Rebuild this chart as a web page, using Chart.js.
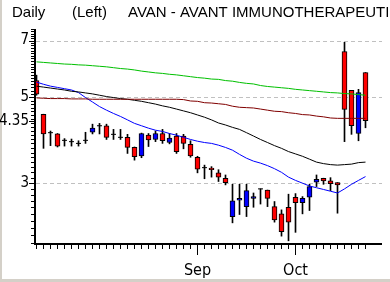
<!DOCTYPE html>
<html><head><meta charset="utf-8">
<script src="https://cdn.jsdelivr.net/npm/chart.js@4.4.1/dist/chart.umd.min.js"></script>
<style>html,body{margin:0;padding:0;background:#fff;overflow:hidden}canvas{display:block}</style>
</head><body>
<canvas id="c" width="390" height="282"></canvas>
<script>
// ---- data ----
const titleParts = ['Daily', '(Left)', 'AVAN - AVANT IMMUNOTHERAPEUTICS'];
const monthTickIndex = [23, 37];
const monthTickLabels = ['Sep', 'Oct'];
const yLabelValues = [7, 5, 4.35, 3];
const yGridValues = [7, 5, 3];

const openP  = [5.52,4.52,4.05,4.02,3.87,3.84,3.80,3.87,4.06,4.22,4.22,4.01,3.94,3.94,3.71,3.53,3.99,3.89,4.03,3.82,3.97,3.97,3.78,3.50,3.29,3.28,3.19,3.09,2.46,2.71,2.61,2.74,2.90,2.88,2.61,2.50,2.60,2.76,2.67,2.76,3.02,3.09,3.04,3.01,6.56,5.21,4.03,5.79];
const highP  = [5.70,4.52,4.09,4.03,3.91,3.90,3.86,4.06,4.26,4.28,4.26,4.13,4.13,4.01,3.72,4.04,4.03,4.09,4.13,4.03,4.03,4.01,3.86,3.52,3.34,3.31,3.25,3.15,2.98,2.98,2.98,2.83,2.90,2.88,2.69,2.56,2.81,2.82,2.77,2.98,3.15,3.09,3.10,3.01,6.93,5.21,5.24,5.79];
const lowP   = [5.06,3.69,3.75,3.72,3.74,3.74,3.74,3.80,4.02,4.02,3.89,3.89,3.89,3.58,3.44,3.49,3.73,3.84,3.80,3.79,3.58,3.68,3.50,3.19,3.08,3.11,3.03,2.97,2.37,2.49,2.46,2.60,2.65,2.61,2.38,2.19,2.13,2.24,2.50,2.55,2.94,2.98,2.87,2.51,3.84,4.01,3.86,4.17];
const closeP = [5.09,4.02,4.05,3.74,3.87,3.84,3.80,3.87,4.16,4.22,3.94,4.01,3.94,3.71,3.51,4.03,3.88,4.03,3.86,3.92,3.62,3.80,3.53,3.26,3.29,3.25,3.11,3.01,2.70,2.74,2.87,2.77,2.90,2.74,2.41,2.25,2.38,2.67,2.74,2.94,3.07,3.04,2.99,2.97,4.65,4.22,5.14,4.35];

const maGreen  = [6.17,6.15,6.13,6.11,6.09,6.08,6.06,6.05,6.03,6.01,5.99,5.96,5.93,5.91,5.88,5.84,5.81,5.78,5.76,5.73,5.71,5.68,5.65,5.62,5.60,5.57,5.56,5.52,5.50,5.46,5.43,5.41,5.36,5.33,5.31,5.29,5.27,5.24,5.22,5.20,5.18,5.16,5.14,5.13,5.11,5.10,5.08,5.06];
const maMaroon = [4.98,4.97,4.96,4.96,4.96,4.95,4.95,4.95,4.94,4.94,4.94,4.94,4.94,4.94,4.94,4.94,4.94,4.94,4.94,4.94,4.94,4.93,4.89,4.88,4.84,4.83,4.81,4.79,4.74,4.71,4.70,4.69,4.66,4.63,4.60,4.59,4.56,4.54,4.51,4.50,4.47,4.45,4.42,4.41,4.41,4.41,4.41,4.41];
const maBlack  = [5.34,5.31,5.28,5.25,5.22,5.18,5.16,5.13,5.10,5.06,5.02,4.99,4.96,4.94,4.91,4.88,4.84,4.80,4.75,4.71,4.66,4.61,4.56,4.50,4.44,4.37,4.29,4.24,4.18,4.13,4.05,3.97,3.89,3.82,3.75,3.69,3.62,3.57,3.52,3.46,3.40,3.37,3.35,3.34,3.35,3.36,3.39,3.40];
const maBlue   = [5.47,5.40,5.34,5.30,5.26,5.22,5.14,4.99,4.86,4.73,4.63,4.54,4.46,4.37,4.28,4.22,4.16,4.11,4.08,4.03,3.99,3.94,3.89,3.85,3.82,3.80,3.76,3.71,3.65,3.56,3.48,3.42,3.38,3.33,3.27,3.20,3.11,3.05,3.00,2.95,2.92,2.89,2.86,2.83,2.90,2.98,3.05,3.12];

// ---- build ----
const UP = '#0000ff', DOWN = '#ff0000';
const idx = openP.map((_, i) => i);
const bodyColors = idx.map(i => closeP[i] > openP[i] ? UP : (closeP[i] < openP[i] ? DOWN : '#000'));

const FAMILY = "'Liberation Sans Narrow','DejaVu Sans Condensed','Liberation Sans',sans-serif";

const decor = {
  id: 'decor',
  beforeDraw(chart) {
    const { ctx, width, height } = chart;
    ctx.save();
    ctx.fillStyle = '#ffffff'; ctx.fillRect(0, 0, width, height);
    ctx.fillStyle = '#d4d0c8';
    ctx.fillRect(0, 0, 2, height);
    ctx.fillRect(0, height - 3, width, 3);
    ctx.restore();
  },
  beforeDatasetsDraw(chart) {
    const { ctx, chartArea: a, scales: { y } } = chart;
    ctx.save();
    ctx.strokeStyle = '#c0c0c0'; ctx.lineWidth = 1; ctx.setLineDash([4, 3]);
    yGridValues.forEach(v => {
      const py = Math.round(y.getPixelForValue(v)) + 0.5;
      ctx.beginPath(); ctx.moveTo(a.left + 1, py); ctx.lineTo(a.right, py); ctx.stroke();
    });
    ctx.restore();
  },
  afterDatasetsDraw(chart) {
    const { ctx, chartArea: a, scales: { x, y } } = chart;
    ctx.save();
    ctx.fillStyle = '#000';
    ctx.fillRect(a.left - 1, a.top, 2, a.bottom - a.top + 1);
    ctx.fillRect(a.left - 1, a.bottom - 1, a.right - a.left + 1, 2);
    for (let k = 21; k <= 75; k++) {
      const py = Math.round(y.getPixelForValue(k / 10));
      ctx.fillRect(a.left - 4, py, 3, 1);
    }
    yLabelValues.forEach(v => {
      const py = Math.round(y.getPixelForValue(v));
      ctx.fillRect(a.left - 6, py, 5, 1);
    });
    idx.forEach(i => {
      const px = Math.floor(x.getPixelForValue(i));
      const long = monthTickIndex.includes(i);
      ctx.fillRect(px, a.bottom, 1, long ? 11 : 5);
    });
    ctx.font = "15px 'Liberation Sans', sans-serif";
    ctx.textBaseline = 'middle';
    ctx.fillText(titleParts[0], 12, 13);
    ctx.fillText(titleParts[1], 72, 13);
    ctx.fillText(titleParts[2], 128, 13);
    ctx.restore();
  }
};

const lineDs = (arr, color) => ({
  type: 'line', data: arr.map((v, i) => ({ x: i, y: v })),
  borderColor: color, borderWidth: 1, pointRadius: 0, tension: 0, order: 0
});

new Chart(document.getElementById('c'), {
  data: {
    datasets: [
      { type: 'bar', data: idx.map(i => ({ x: i, y: [lowP[i], highP[i]] })),
        backgroundColor: '#000', borderWidth: 0, grouped: false,
        barPercentage: 1, categoryPercentage: 1, maxBarThickness: 1, order: 3 },
      { type: 'bar', data: idx.map(i => ({ x: i, y: [openP[i], closeP[i]] })),
        backgroundColor: bodyColors, borderColor: '#000', borderWidth: 1, borderSkipped: false,
        grouped: false, barPercentage: 1, categoryPercentage: 1, maxBarThickness: 5, order: 2 },
      { type: 'scatter', data: idx.map(i => ({ x: i, y: openP[i] === closeP[i] ? closeP[i] : null })),
        pointStyle: 'line', radius: 2.5, borderColor: '#000', borderWidth: 1, order: 1 },
      lineDs(maGreen, '#00c000'),
      lineDs(maMaroon, '#800000'),
      lineDs(maBlack, '#000000'),
      lineDs(maBlue, '#0000ff')
    ]
  },
  options: {
    responsive: false, animation: false, devicePixelRatio: 1,
    layout: { padding: { top: 29, right: 8, bottom: 0, left: 0 } },
    plugins: { legend: { display: false }, tooltip: { enabled: false } },
    scales: {
      x: {
        type: 'linear', bounds: 'data', offset: false, min: -0.2143, max: 49.357,
        grid: { display: false, drawTicks: false, offset: false }, border: { display: false },
        afterBuildTicks: s => { s.ticks = monthTickIndex.map(v => ({ value: v })); },
        afterFit: s => { s.height = 38; },
        ticks: { autoSkip: false, maxRotation: 0, minRotation: 0, padding: 17, color: '#000',
          font: { family: FAMILY, size: 16 },
          callback: (v, i) => monthTickLabels[i] }
      },
      y: {
        type: 'logarithmic', bounds: 'data', min: 2.09, max: 7.5,
        grid: { display: false, drawTicks: false }, border: { display: false },
        afterBuildTicks: s => { s.ticks = yLabelValues.map(v => ({ value: v })); },
        afterFit: s => { s.width = 35; },
        ticks: { autoSkip: false, padding: 6, color: '#000',
          font: { family: FAMILY, size: 15 },
          callback: (v) => String(v) }
      }
    }
  },
  plugins: [decor]
});
</script>
</body></html>
